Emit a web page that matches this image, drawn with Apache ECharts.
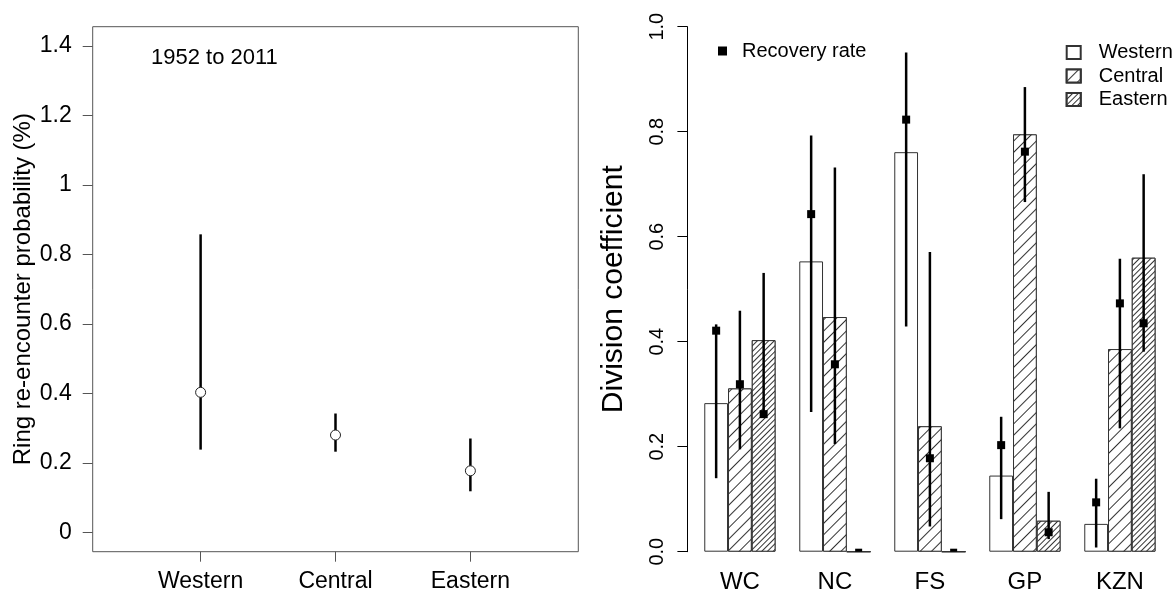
<!DOCTYPE html>
<html>
<head>
<meta charset="utf-8">
<script src="https://cdn.jsdelivr.net/npm/echarts@6/dist/echarts.min.js"></script>
<style>
html,body{margin:0;padding:0;background:#fff;}
#chart{width:1174px;height:590px;}
</style>
</head>
<body>
<div id="chart"></div>
<script>
// ---- Left panel data ----
const regions = ['Western', 'Central', 'Eastern'];
const reencounter = [0.403, 0.280, 0.177];
const reencounterLow = [0.238, 0.232, 0.118];
const reencounterHigh = [0.858, 0.342, 0.270];
const leftYTicks = [0, 0.2, 0.4, 0.6, 0.8, 1, 1.2, 1.4];
const periodLabel = '1952 to 2011';

// ---- Right panel data ----
const provinces = ['WC', 'NC', 'FS', 'GP', 'KZN'];
const divWestern = [0.283, 0.553, 0.761, 0.145, 0.053];
const divCentral = [0.311, 0.447, 0.239, 0.795, 0.386];
const divEastern = [0.403, 0, 0, 0.059, 0.560];
const recWestern = [0.421, 0.643, 0.823, 0.203, 0.094];
const recWesternLow = [0.140, 0.266, 0.429, 0.062, 0.008];
const recWesternHigh = [0.433, 0.793, 0.951, 0.257, 0.139];
const recCentral = [0.319, 0.357, 0.178, 0.762, 0.473];
const recCentralLow = [0.195, 0.205, 0.048, 0.666, 0.235];
const recCentralHigh = [0.459, 0.732, 0.571, 0.885, 0.558];
const recEastern = [0.262, 0, 0, 0.037, 0.435];
const recEasternLow = [0.255, 0, 0, 0.024, 0.381];
const recEasternHigh = [0.531, 0, 0, 0.114, 0.719];

const FONT = '"Liberation Sans", Arial, sans-serif';

const leftData = regions.map((r, i) => [i + 1, reencounter[i], reencounterLow[i], reencounterHigh[i]]);
const recSets = [
  [recWestern, recWesternLow, recWesternHigh],
  [recCentral, recCentralLow, recCentralHigh],
  [recEastern, recEasternLow, recEasternHigh]
];
const rightData = [];
provinces.forEach((p, g) => {
  recSets.forEach((s, j) => {
    rightData.push([g, j, s[0][g], s[1][g], s[2][g]]);
  });
});

const hatchCentral = {
  symbol: 'rect', symbolSize: 1, dashArrayX: [1, 0], dashArrayY: [1, 7],
  rotation: -Math.PI / 4, color: '#333', backgroundColor: '#fff'
};
const hatchEastern = {
  symbol: 'rect', symbolSize: 1, dashArrayX: [1, 0], dashArrayY: [1, 3],
  rotation: -Math.PI / 4, color: '#333', backgroundColor: '#fff'
};

const chart = echarts.init(document.getElementById('chart'), null, {renderer: 'canvas'});
const option = {
  animation: false,
  backgroundColor: '#fff',
  textStyle: {fontFamily: FONT, color: '#000'},
  title: {
    text: periodLabel, left: 151, top: 47, padding: 0,
    textStyle: {fontFamily: FONT, fontSize: 22, fontWeight: 'normal', color: '#000'}
  },
  grid: [
    {left: 92.7, top: 26.7, width: 485.6, height: 525, show: true, borderColor: '#555', borderWidth: 1, backgroundColor: 'transparent', outerBoundsMode: 'none'},
    {left: 692.4, top: 26.7, width: 475, height: 525, outerBoundsMode: 'none'}
  ],
  legend: [
    {
      data: ['Western', 'Central', 'Eastern'], orient: 'vertical', left: 1065.7, top: 42.5,
      padding: 0, itemWidth: 14, itemHeight: 13, itemGap: 3.5, selectedMode: false,
      icon: 'rect',
      textStyle: {fontFamily: FONT, fontSize: 20, color: '#000', padding: [0, 0, 0, 13]}
    },
    {
      data: [{name: 'Recovery rate', icon: 'rect'}], left: 718, top: 41,
      padding: 0, itemWidth: 9, itemHeight: 9, selectedMode: false,
      textStyle: {fontFamily: FONT, fontSize: 20, color: '#000', padding: [0, 0, 0, 10]}
    }
  ],
  xAxis: [
    {
      gridIndex: 0, type: 'value', min: 0.2, max: 3.8,
      axisLine: {show: false, onZero: false}, splitLine: {show: false},
      axisTick: {show: true, customValues: [1, 2, 3], length: 10, lineStyle: {color: '#555'}},
      axisLabel: {customValues: [1, 2, 3], formatter: v => regions[Math.round(v) - 1], fontSize: 23, color: '#000', margin: 18, fontFamily: FONT}
    },
    {
      gridIndex: 1, type: 'category', data: provinces,
      axisLine: {show: false, onZero: false}, axisTick: {show: false}, splitLine: {show: false},
      axisLabel: {fontSize: 24, color: '#000', margin: 19, fontFamily: FONT}
    }
  ],
  yAxis: [
    {
      gridIndex: 0, type: 'value', min: -0.056, max: 1.456,
      axisLine: {show: false, onZero: false}, splitLine: {show: false},
      axisTick: {show: true, customValues: leftYTicks, length: 10, lineStyle: {color: '#555'}},
      axisLabel: {customValues: leftYTicks, fontSize: 23, color: '#000', margin: 21, fontFamily: FONT},
      name: 'Ring re-encounter probability (%)', nameLocation: 'middle', nameGap: 56,
      nameTextStyle: {fontSize: 24, color: '#000', fontFamily: FONT}
    },
    {
      gridIndex: 1, type: 'value', min: 0, max: 1, interval: 0.2, offset: 5,
      axisLine: {show: true, onZero: false, lineStyle: {color: '#000', width: 1}}, splitLine: {show: false},
      axisTick: {show: true, length: 10, lineStyle: {color: '#000'}},
      axisLabel: {rotate: 90, fontSize: 20, color: '#000', margin: 20, formatter: v => v.toFixed(1), fontFamily: FONT},
      name: 'Division coefficient', nameLocation: 'middle', nameGap: 59,
      nameTextStyle: {fontSize: 30, color: '#000', fontFamily: FONT}
    }
  ],
  series: [
    {
      name: 'Re-encounter', type: 'custom', xAxisIndex: 0, yAxisIndex: 0,
      data: leftData, encode: {x: 0, y: 1},
      renderItem: function (params, api) {
        const x = api.value(0), v = api.value(1), lo = api.value(2), hi = api.value(3);
        const p = api.coord([x, v]);
        const yLo = api.coord([x, lo])[1];
        const yHi = api.coord([x, hi])[1];
        const r = 5;
        return {
          type: 'group',
          children: [
            {type: 'line', shape: {x1: p[0], y1: yLo, x2: p[0], y2: p[1] + r}, style: {stroke: '#000', lineWidth: 2.5}},
            {type: 'line', shape: {x1: p[0], y1: p[1] - r, x2: p[0], y2: yHi}, style: {stroke: '#000', lineWidth: 2.5}},
            {type: 'circle', shape: {cx: p[0], cy: p[1], r: r}, style: {fill: 'none', stroke: '#222', lineWidth: 1}}
          ]
        };
      }
    },
    {
      name: 'Western', type: 'bar', xAxisIndex: 1, yAxisIndex: 1, data: divWestern,
      barGap: '0%', barCategoryGap: '25%',
      itemStyle: {color: '#fff', borderColor: '#333', borderWidth: 1}
    },
    {
      name: 'Central', type: 'bar', xAxisIndex: 1, yAxisIndex: 1, data: divCentral,
      barGap: '0%', barCategoryGap: '25%',
      itemStyle: {color: '#fff', borderColor: '#333', borderWidth: 1, decal: hatchCentral}
    },
    {
      name: 'Eastern', type: 'bar', xAxisIndex: 1, yAxisIndex: 1, data: divEastern,
      barGap: '0%', barCategoryGap: '25%',
      itemStyle: {color: '#fff', borderColor: '#333', borderWidth: 1, decal: hatchEastern}
    },
    {
      name: 'Recovery rate', type: 'custom', xAxisIndex: 1, yAxisIndex: 1,
      data: rightData, encode: {x: 0, y: 2}, z: 5,
      itemStyle: {color: '#000'},
      renderItem: function (params, api) {
        const g = api.value(0), j = api.value(1), v = api.value(2), lo = api.value(3), hi = api.value(4);
        const bandW = api.size([1, 0])[0];
        const barW = bandW * 0.75 / 3;
        const p = api.coord([g, v]);
        const x = p[0] + (j - 1) * barW;
        const children = [];
        if (hi > lo) {
          const y1 = api.coord([g, lo])[1], y2 = api.coord([g, hi])[1];
          children.push({type: 'line', shape: {x1: x, y1: y1, x2: x, y2: y2}, style: {stroke: '#000', lineWidth: 2.5}});
        }
        if (v > 0) {
          children.push({type: 'rect', shape: {x: x - 4, y: p[1] - 4, width: 8, height: 8}, style: {fill: '#000'}});
        } else {
          children.push({type: 'rect', shape: {x: x - 3.5, y: p[1] - 3, width: 7, height: 3}, style: {fill: '#000'}});
        }
        return {type: 'group', children: children};
      }
    }
  ]
};
chart.setOption(option);
</script>
</body>
</html>
